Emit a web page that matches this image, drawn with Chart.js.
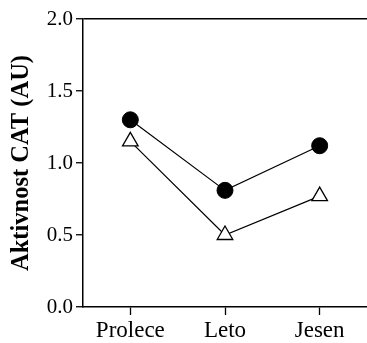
<!DOCTYPE html>
<html>
<head>
<meta charset="utf-8">
<script src="https://cdn.jsdelivr.net/npm/chart.js@4"></script>
<style>
  html, body { margin: 0; padding: 0; background: #fff; }
  #wrap { width: 367px; height: 343px; }
</style>
</head>
<body>
<div id="wrap"><canvas id="c" width="367" height="343"></canvas></div>
<script>
// Seasons on the x axis
const seasons = ['Prolece', 'Leto', 'Jesen'];
// CAT activity, two groups
const filledCircleSeries = [1.30, 0.81, 1.12];
const openTriangleSeries = [1.15, 0.50, 0.77];
// y axis range and step
const yMin = 0.0, yMax = 2.0, yStep = 0.5;

const serif = "'Liberation Serif', 'Times New Roman', serif";

new Chart(document.getElementById('c'), {
  type: 'line',
  data: {
    labels: seasons,
    datasets: [
      {
        data: filledCircleSeries,
        borderColor: '#000',
        borderWidth: 1.2,
        pointStyle: 'circle',
        pointRadius: 8,
        pointBackgroundColor: '#000',
        pointBorderColor: '#000',
        pointBorderWidth: 1,
        tension: 0
      },
      {
        data: openTriangleSeries,
        borderColor: '#000',
        borderWidth: 1.2,
        pointStyle: 'triangle',
        pointRadius: 9,
        pointBackgroundColor: '#fff',
        pointBorderColor: '#000',
        pointBorderWidth: 1.3,
        tension: 0
      }
    ]
  },
  options: {
    responsive: false,
    animation: false,
    layout: { autoPadding: false, padding: { top: 19, right: -2, bottom: 0, left: 0 } },
    plugins: { legend: { display: false }, tooltip: { enabled: false } },
    scales: {
      x: {
        offset: true,
        grid: { display: true, drawOnChartArea: false, offset: false, tickLength: 8, tickColor: '#000', tickWidth: 1.3 },
        border: { display: true, color: '#000', width: 1.5 },
        ticks: { color: '#000', font: { family: serif, size: 23 }, padding: 2 },
        afterFit: s => { s.height = 36; s.paddingLeft = 0; s.paddingRight = 0; }
      },
      y: {
        min: yMin,
        max: yMax,
        grid: {
          display: true,
          drawOnChartArea: true,
          color: ctx => (ctx.tick && ctx.tick.value === yMax) ? '#000' : 'rgba(0,0,0,0)',
          lineWidth: 1.5,
          tickLength: 7,
          tickColor: '#000',
          tickWidth: 1.3
        },
        border: { display: true, color: '#000', width: 1.5 },
        ticks: {
          stepSize: yStep,
          color: '#000',
          padding: 3,
          font: { family: serif, size: 21 },
          callback: v => Number(v).toFixed(1)
        },
        title: {
          display: true,
          text: 'Aktivnost CAT (AU)',
          color: '#000',
          font: { family: serif, size: 24.5, weight: 'bold' },
          padding: { top: 7, bottom: 0 }
        },
        afterFit: s => { s.width = 83; }
      }
    }
  }
});
</script>
</body>
</html>
